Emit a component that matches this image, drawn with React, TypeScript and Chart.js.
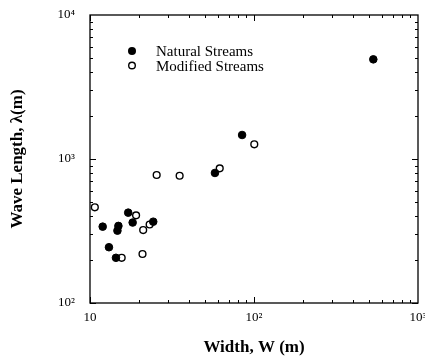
import React, { useEffect, useRef } from 'react';
import { Chart, registerables } from 'chart.js';

Chart.register(...registerables);

const naturalWidth = [534, 84.6, 57.8, 17.1, 18.2, 24.3, 11.95, 14.9, 14.7, 13.05, 14.4];
const naturalLength = [4920, 1468, 800, 424, 362, 367, 339, 343, 318, 244, 206];
const modifiedWidth = [10.7, 19.1, 21.1, 23.1, 15.6, 20.9, 25.5, 35.2, 61.8, 100.4];
const modifiedLength = [462, 406, 321, 351, 206, 219, 774, 765, 861, 1265];

const xTickValues = [10, 100, 1000];
const xTickLabels = ['10', '10²', '10³'];
const yTickValues = [100, 1000, 10000];
const yTickLabels = ['10²', '10³', '10⁴'];
const seriesNames = ['Natural Streams', 'Modified Streams'];
const xTitle = 'Width, W (m)';
const yTitle = 'Wave Length, λ(m)';

const SERIF = "'Liberation Serif', 'Times New Roman', serif";

const framePlugin = {
  id: 'frame',
  beforeDatasetsDraw(chart: any) {
    const { ctx, chartArea: a, scales } = chart;
    const xs = scales.x;
    const ys = scales.y;
    ctx.save();
    ctx.strokeStyle = '#000';
    ctx.lineWidth = 1;
    ctx.beginPath();
    for (let d = xs.min; d < xs.max; d *= 10) {
      for (let m = 1; m <= 9; m++) {
        const v = d * m;
        if (v < xs.min || v > xs.max) continue;
        const px = Math.round(xs.getPixelForValue(v)) + 0.5;
        const len = m === 1 ? 6 : 3;
        ctx.moveTo(px, a.bottom);
        ctx.lineTo(px, a.bottom - len);
        ctx.moveTo(px, a.top);
        ctx.lineTo(px, a.top + len);
      }
    }
    for (let d = ys.min; d < ys.max; d *= 10) {
      for (let m = 1; m <= 9; m++) {
        const v = d * m;
        if (v < ys.min || v > ys.max) continue;
        const py = Math.round(ys.getPixelForValue(v)) + 0.5;
        const len = m === 1 ? 6 : 3;
        ctx.moveTo(a.left, py);
        ctx.lineTo(a.left + len, py);
        ctx.moveTo(a.right, py);
        ctx.lineTo(a.right - len, py);
      }
    }
    ctx.stroke();
    ctx.lineWidth = 1.3;
    ctx.strokeRect(a.left, a.top, a.right - a.left, a.bottom - a.top);
    ctx.restore();
  },
  afterDraw(chart: any) {
    const { ctx, chartArea: a } = chart;
    ctx.save();
    const mx = a.left + 42;
    const tx = a.left + 66;
    const rows = [a.top + 37.5, a.top + 52];
    ctx.font = `15px ${SERIF}`;
    ctx.textBaseline = 'middle';
    ctx.fillStyle = '#000';
    rows.forEach((yy, i) => {
      ctx.beginPath();
      ctx.arc(mx, yy - 1.5, i === 0 ? 4 : 3.3, 0, Math.PI * 2);
      if (i === 0) {
        ctx.fillStyle = '#000';
        ctx.fill();
      } else {
        ctx.fillStyle = '#fff';
        ctx.fill();
        ctx.lineWidth = 1.4;
        ctx.strokeStyle = '#000';
        ctx.stroke();
      }
      ctx.fillStyle = '#000';
      ctx.fillText(seriesNames[i], tx, yy);
    });
    ctx.restore();
  },
};

export default function App() {
  const ref = useRef<HTMLCanvasElement>(null);
  useEffect(() => {
    if (!ref.current) return;
    const toPts = (xs: number[], ys: number[]) => xs.map((x, i) => ({ x, y: ys[i] }));
    const chart = new Chart(ref.current, {
      type: 'scatter',
      data: {
        datasets: [
          {
            label: seriesNames[0],
            data: toPts(naturalWidth, naturalLength),
            pointRadius: 3.8,
            pointBackgroundColor: '#000',
            pointBorderColor: '#000',
            pointBorderWidth: 1,
          },
          {
            label: seriesNames[1],
            data: toPts(modifiedWidth, modifiedLength),
            pointRadius: 3.4,
            pointBackgroundColor: '#fff',
            pointBorderColor: '#000',
            pointBorderWidth: 1.4,
          },
        ],
      },
      options: {
        responsive: false,
        animation: false,
        layout: { padding: { left: 0, right: 7, top: 15, bottom: 0 } },
        plugins: { legend: { display: false }, tooltip: { enabled: false } },
        scales: {
          x: {
            type: 'logarithmic',
            min: 10,
            max: 1000,
            grid: { display: false, drawTicks: false },
            border: { display: false },
            afterBuildTicks: (s: any) => {
              s.ticks = xTickValues.map((v) => ({ value: v }));
            },
            afterFit: (s: any) => {
              s.height = 55;
              s.paddingLeft = 0;
              s.paddingRight = 0;
            },
            ticks: {
              padding: 7,
              color: '#000',
              maxRotation: 0,
              autoSkip: false,
              font: { family: SERIF, size: 13 },
              callback: (v: any) => xTickLabels[xTickValues.indexOf(Number(v))] ?? '',
            },
            title: {
              display: true,
              text: xTitle,
              color: '#000',
              font: { family: SERIF, size: 17, weight: 'bold' },
              padding: { top: 0, bottom: 0 },
            },
          },
          y: {
            type: 'logarithmic',
            min: 100,
            max: 10000,
            grid: { display: false, drawTicks: false },
            border: { display: false },
            afterBuildTicks: (s: any) => {
              s.ticks = yTickValues.map((v) => ({ value: v }));
            },
            afterFit: (s: any) => {
              s.width = 90;
              s.paddingTop = 0;
              s.paddingBottom = 0;
            },
            ticks: {
              padding: 15,
              color: '#000',
              autoSkip: false,
              font: { family: SERIF, size: 13 },
              callback: (v: any) => yTickLabels[yTickValues.indexOf(Number(v))] ?? '',
            },
            title: {
              display: true,
              text: yTitle,
              color: '#000',
              font: { family: SERIF, size: 17, weight: 'bold' },
              padding: { top: 7, bottom: 0 },
            },
          },
        },
      } as any,
      plugins: [framePlugin],
    });
    return () => chart.destroy();
  }, []);
  return (
    <div style={{ position: 'fixed', left: 0, top: 0, width: 425, height: 358, background: '#fff' }}>
      <canvas ref={ref} width={425} height={358} style={{ display: 'block' }} />
    </div>
  );
}
